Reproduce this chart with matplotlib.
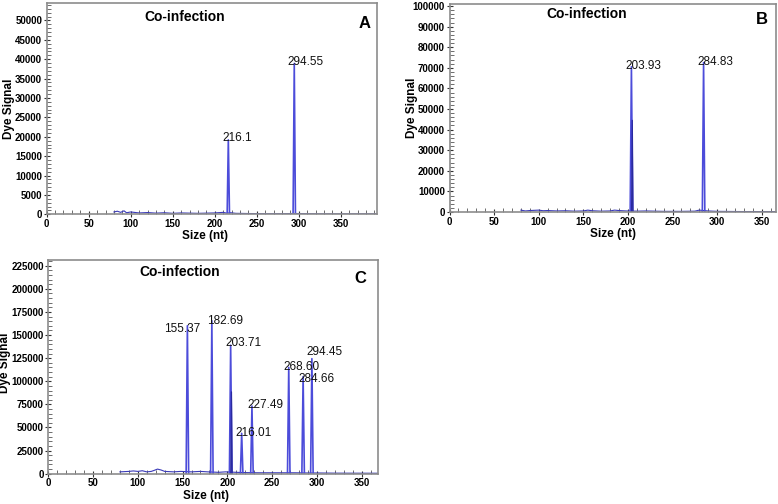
import matplotlib
matplotlib.use('Agg')
import matplotlib.pyplot as plt
from matplotlib.ticker import MultipleLocator, FuncFormatter

plt.rcParams['font.family'] = ['Liberation Sans', 'DejaVu Sans']

# ---- data ----
# panel A
peaks_a_size = [216.1, 294.55]
peaks_a_signal = [19200, 38900]
peaks_a_label = ['216.1', '294.55']
noise_a_size = [80, 84, 88, 92, 95, 100, 110, 120, 130, 140, 150, 160, 170, 180,
                190, 200, 210, 214, 219, 225, 240, 260, 280, 290, 298, 310, 330, 360, 393]
noise_a_signal = [600, 800, 500, 900, 400, 600, 350, 450, 300, 400, 250, 350, 300, 250,
                  300, 350, 500, 300, 400, 250, 200, 150, 150, 200, 200, 150, 100, 100, 100]

# panel B
peaks_b_size = [203.93, 284.83]
peaks_b_signal = [70500, 72500]
peaks_b_label = ['203.93', '284.83']
shoulder_b_size = [204.9]
shoulder_b_signal = [44500]
noise_b_size = [80, 85, 90, 100, 105, 110, 120, 130, 140, 150, 155, 160, 170, 180,
                185, 190, 198, 210, 220, 240, 260, 275, 280, 290, 300, 330, 366]
noise_b_signal = [900, 500, 700, 900, 600, 700, 500, 600, 400, 500, 900, 600, 400, 500,
                  900, 700, 500, 400, 500, 300, 300, 400, 900, 500, 300, 200, 200]

# panel C
peaks_c_size = [155.37, 182.69, 203.71, 216.01, 227.49, 268.60, 284.66, 294.45]
peaks_c_signal = [160000, 165500, 139000, 43700, 73200, 115000, 105000, 124400]
peaks_c_label = ['155.37', '182.69', '203.71', '216.01', '227.49', '268.60', '284.66', '294.45']
shoulder_c_size = [204.6]
shoulder_c_signal = [88500]
noise_c_size = [80, 90, 95, 100, 105, 110, 115, 118, 122, 126, 130, 140, 148, 160,
                170, 178, 190, 198, 210, 220, 235, 250, 260, 275, 290, 300, 320, 368]
noise_c_signal = [2000, 2500, 3000, 2500, 3200, 2000, 2500, 3500, 5000, 4000, 2500, 2000,
                  2500, 2000, 2500, 2000, 1500, 2000, 1500, 1200, 1000, 1000, 1000, 1000,
                  800, 800, 600, 500]

# label offsets in pixels (dx to text left edge, dy to text centre)
offsets_a = [(-6, 2), (-7, 1)]
offsets_b = [(-6, 1), (-6, 1)]
offsets_c = [(-23, -3), (-5, 0), (-5, 2), (-6, 0), (-5, 1), (-5, 0), (-5, -2), (-5, 7)]

TRACE = '#4c4cda'
FRAME = '#8c8c8c'


def draw_panel(ax, noise_x, noise_y, pk_x, pk_y, pk_lab, sh_x, sh_y, offsets,
               xmax, ymax, ymajor, yminor, label_x):
    ax.plot(noise_x, noise_y, color='#3a3ab8', lw=0.8)
    for x, h in zip(pk_x, pk_y):
        ax.plot([x - 1.4, x, x + 1.4], [0, h, 0], color=TRACE, lw=1.2)
    for x, h in zip(sh_x, sh_y):
        ax.plot([x - 0.8, x, x + 0.8], [0, h, 0], color='#2a2aa0', lw=0.9)
    for x, h, lab, (dx, dy) in zip(pk_x, pk_y, pk_lab, offsets):
        ax.annotate(lab, xy=(x, h), xytext=(dx, dy), textcoords='offset pixels',
                    ha='left', va='center', fontsize=8.5, color='#111111')

    ax.set_xlim(0, xmax)
    ax.set_ylim(0, ymax)
    ax.xaxis.set_major_locator(MultipleLocator(50))
    ax.xaxis.set_minor_locator(MultipleLocator(10))
    ax.yaxis.set_major_locator(MultipleLocator(ymajor))
    ax.yaxis.set_minor_locator(MultipleLocator(yminor))
    ax.yaxis.set_major_formatter(FuncFormatter(lambda v, p: f'{int(v)}'))
    ax.tick_params(which='major', direction='inout', length=5, width=0.8,
                   color='#333333', labelsize=7, pad=0.8)
    ax.tick_params(which='minor', direction='in', length=3, width=0.6, color='#555555')
    for lab in ax.get_xticklabels() + ax.get_yticklabels():
        lab.set_fontweight('bold')
    for sp in ax.spines.values():
        sp.set_color(FRAME)
        sp.set_linewidth(1.2)

    ax.set_xlabel('Size (nt)', fontsize=8.5, fontweight='bold')
    ax.set_ylabel('Dye Signal', fontsize=8.5, fontweight='bold')
    ax.xaxis.set_label_coords(label_x, -0.075)
    return ax


fig = plt.figure(figsize=(7.78, 5.04), dpi=100)

ax_a = fig.add_axes([0.060, 0.5748, 0.4246, 0.4193])
draw_panel(ax_a, noise_a_size, noise_a_signal, peaks_a_size, peaks_a_signal, peaks_a_label,
           [], [], offsets_a, 393, 54500, 5000, 1000, 0.48)
ax_a.yaxis.set_label_coords(-0.095, 0.5)
ax_a.text(0.419, 0.934, 'Co-infection', transform=ax_a.transAxes, ha='center',
          va='center', fontsize=10, fontweight='bold')
ax_a.text(0.961, 0.905, 'A', transform=ax_a.transAxes, ha='center', va='center',
          fontsize=12, fontweight='bold')

ax_b = fig.add_axes([0.5778, 0.5794, 0.4196, 0.4127])
draw_panel(ax_b, noise_b_size, noise_b_signal, peaks_b_size, peaks_b_signal, peaks_b_label,
           shoulder_b_size, shoulder_b_signal, offsets_b, 366, 101000, 10000, 2000, 0.5)
ax_b.yaxis.set_label_coords(-0.0955, 0.5)
ax_b.text(0.421, 0.952, 'Co-infection', transform=ax_b.transAxes, ha='center',
          va='center', fontsize=10, fontweight='bold')
ax_b.text(0.957, 0.923, 'B', transform=ax_b.transAxes, ha='center', va='center',
          fontsize=12, fontweight='bold')

ax_c = fig.add_axes([0.0621, 0.0601, 0.4234, 0.4246])
draw_panel(ax_c, noise_c_size, noise_c_signal, peaks_c_size, peaks_c_signal, peaks_c_label,
           shoulder_c_size, shoulder_c_signal, offsets_c, 368, 231500, 25000, 5000, 0.48)
ax_c.yaxis.set_label_coords(-0.113, 0.52)
ax_c.text(0.40, 0.944, 'Co-infection', transform=ax_c.transAxes, ha='center',
          va='center', fontsize=10, fontweight='bold')
ax_c.text(0.946, 0.914, 'C', transform=ax_c.transAxes, ha='center', va='center',
          fontsize=12, fontweight='bold')

fig.savefig('out.png', dpi=100)
plt.close(fig)
